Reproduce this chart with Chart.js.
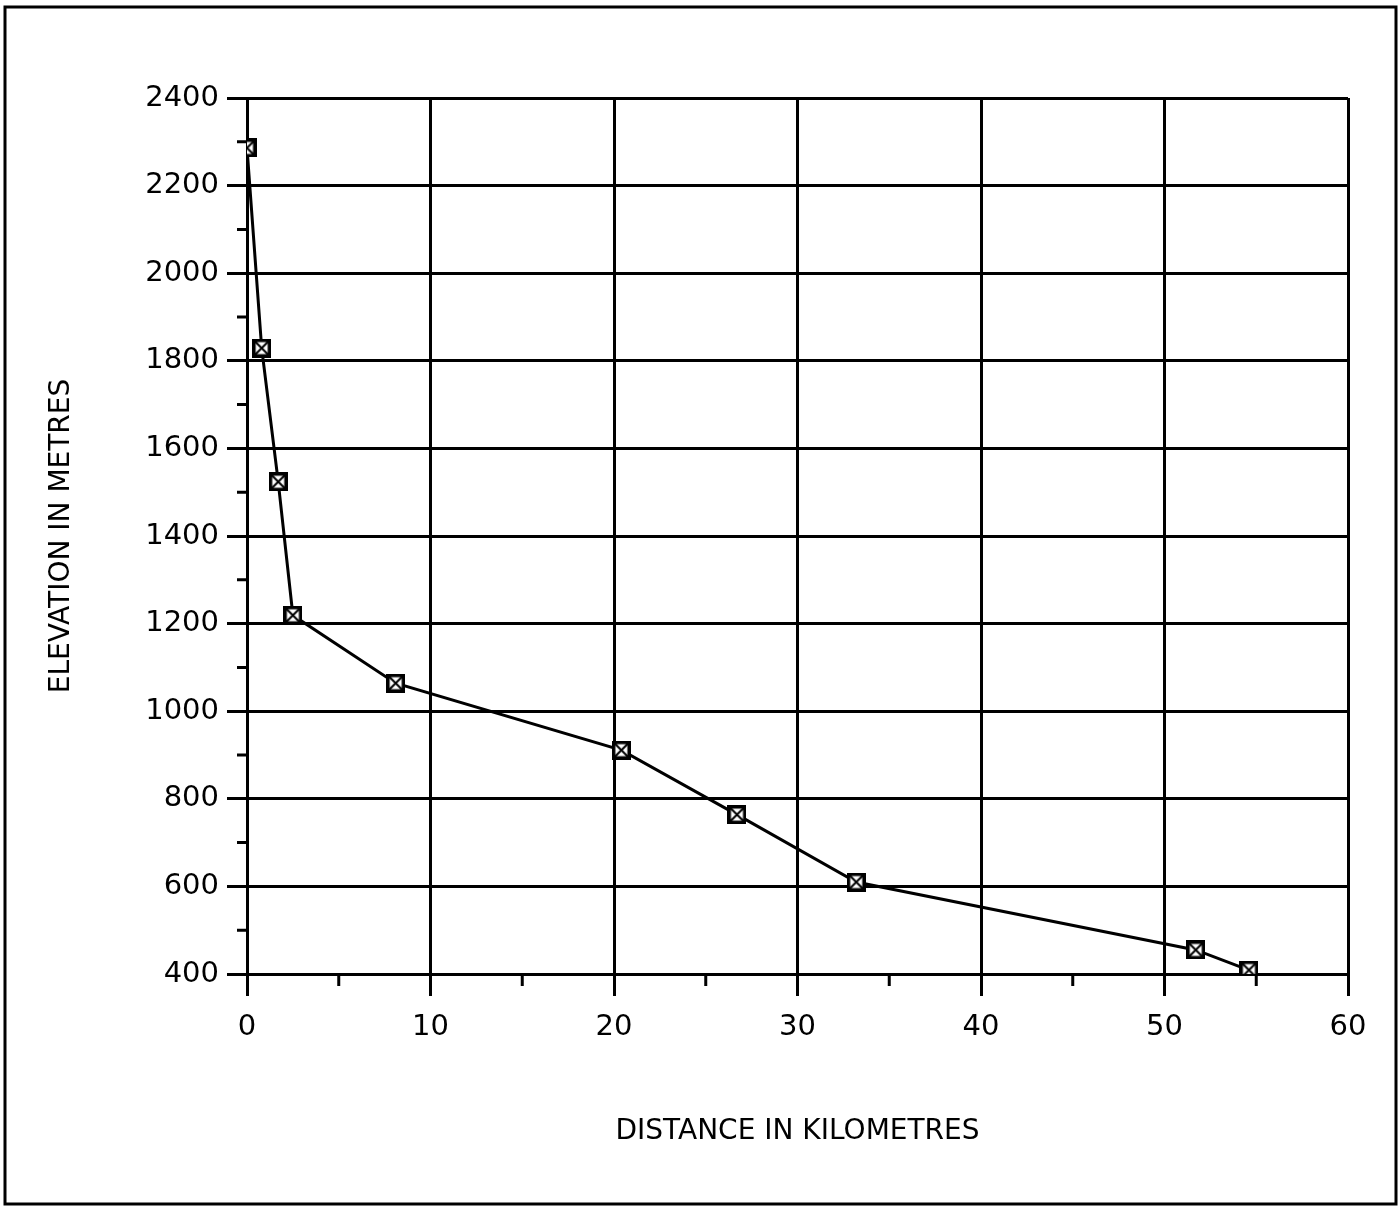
<!DOCTYPE html>
<html>
<head>
<meta charset="utf-8">
<script src="https://cdn.jsdelivr.net/npm/chart.js@4"></script>
<style>
  html, body { margin: 0; padding: 0; background: #fff; }
  #wrap { width: 1400px; height: 1207px; }
</style>
</head>
<body>
<div id="wrap"><canvas id="ProfileChart" width="1400" height="1207"></canvas></div>
<script>
const distance_km = [0, 0.8, 1.7, 2.5, 8.1, 20.4, 26.7, 33.2, 51.7, 54.6];
const elevation_m = [2286, 1829, 1524, 1219, 1064, 911, 764, 610, 455, 409];

const x_ticks = [0, 10, 20, 30, 40, 50, 60];
const y_ticks = [400, 600, 800, 1000, 1200, 1400, 1600, 1800, 2000, 2200, 2400];

// boxed cross marker
function boxCross(size) {
    const c = document.createElement('canvas');
    c.width = size; c.height = size;
    const g = c.getContext('2d');
    g.fillStyle = '#fff';
    g.fillRect(0, 0, size, size);
    g.strokeStyle = '#000';
    g.lineWidth = 3.5;
    g.strokeRect(1.75, 1.75, size - 3.5, size - 3.5);
    g.lineWidth = 2;
    g.beginPath();
    g.moveTo(3, 3); g.lineTo(size - 3, size - 3);
    g.moveTo(size - 3, 3); g.lineTo(3, size - 3);
    g.stroke();
    return c;
}

const minorTicks = {
    id: 'minorTicks',
    afterDatasetsDraw(chart) {
        const ctx = chart.ctx;
        const xs = chart.scales.x, ys = chart.scales.y;
        ctx.save();
        ctx.strokeStyle = '#000';
        ctx.lineWidth = 3;
        ctx.beginPath();
        for (let v = 5; v < 60; v += 10) {
            const px = xs.getPixelForValue(v);
            ctx.moveTo(px, ys.bottom);
            ctx.lineTo(px, ys.bottom + 12);
        }
        for (let v = 500; v < 2400; v += 200) {
            const py = ys.getPixelForValue(v);
            ctx.moveTo(xs.left - 10, py);
            ctx.lineTo(xs.left, py);
        }
        ctx.stroke();
        // outer frame
        ctx.lineWidth = 3;
        ctx.strokeRect(5, 7, chart.width - 9, chart.height - 10);
        ctx.restore();
    }
};

const data_profile = {
    datasets: [{
        label: 'Profile',
        data: distance_km.map((d, i) => ({ x: d, y: elevation_m[i] })),
        showLine: true,
        borderColor: '#000',
        borderWidth: 3,
        pointStyle: boxCross(19),
        pointRadius: 9.5,
        tension: 0
    }]
};

const tickFont = { family: 'DejaVu Sans', size: 29 };
const titleFont = { family: 'DejaVu Sans', size: 28 };

const config_profile = {
    type: 'scatter',
    data: data_profile,
    options: {
        responsive: false,
        animation: false,
        layout: { padding: { left: 0, top: 98, right: 52, bottom: 0 } },
        scales: {
            x: {
                type: 'linear',
                min: 0, max: 60,
                afterBuildTicks: (s) => { s.ticks = x_ticks.map(v => ({ value: v })); },
                afterFit: (s) => { s.height = 233; },
                grid: { color: '#000', lineWidth: 3, tickLength: 22, tickColor: '#000' },
                border: { color: '#000', width: 3 },
                ticks: { color: '#000', font: tickFont, padding: 14, maxRotation: 0,
                         callback: (v) => String(v) },
                title: {
                    display: true,
                    text: 'DISTANCE IN KILOMETRES',
                    color: '#000',
                    font: titleFont,
                    padding: { top: 0, bottom: 58 }
                }
            },
            y: {
                type: 'linear',
                min: 400, max: 2400,
                afterBuildTicks: (s) => { s.ticks = y_ticks.map(v => ({ value: v })); },
                afterFit: (s) => { s.width = 247; },
                grid: { color: '#000', lineWidth: 3, tickLength: 20, tickColor: '#000' },
                border: { color: '#000', width: 3 },
                ticks: { color: '#000', font: tickFont, padding: 8,
                         callback: (v) => String(v) },
                title: {
                    display: true,
                    text: 'ELEVATION IN METRES',
                    color: '#000',
                    font: titleFont,
                    padding: { top: 45, bottom: 0 }
                }
            }
        },
        plugins: {
            legend: { display: false },
            tooltip: { enabled: false }
        }
    },
    plugins: [minorTicks]
};

const myChart_Profile = new Chart(
    document.getElementById('ProfileChart'),
    config_profile
);
</script>
</body>
</html>
